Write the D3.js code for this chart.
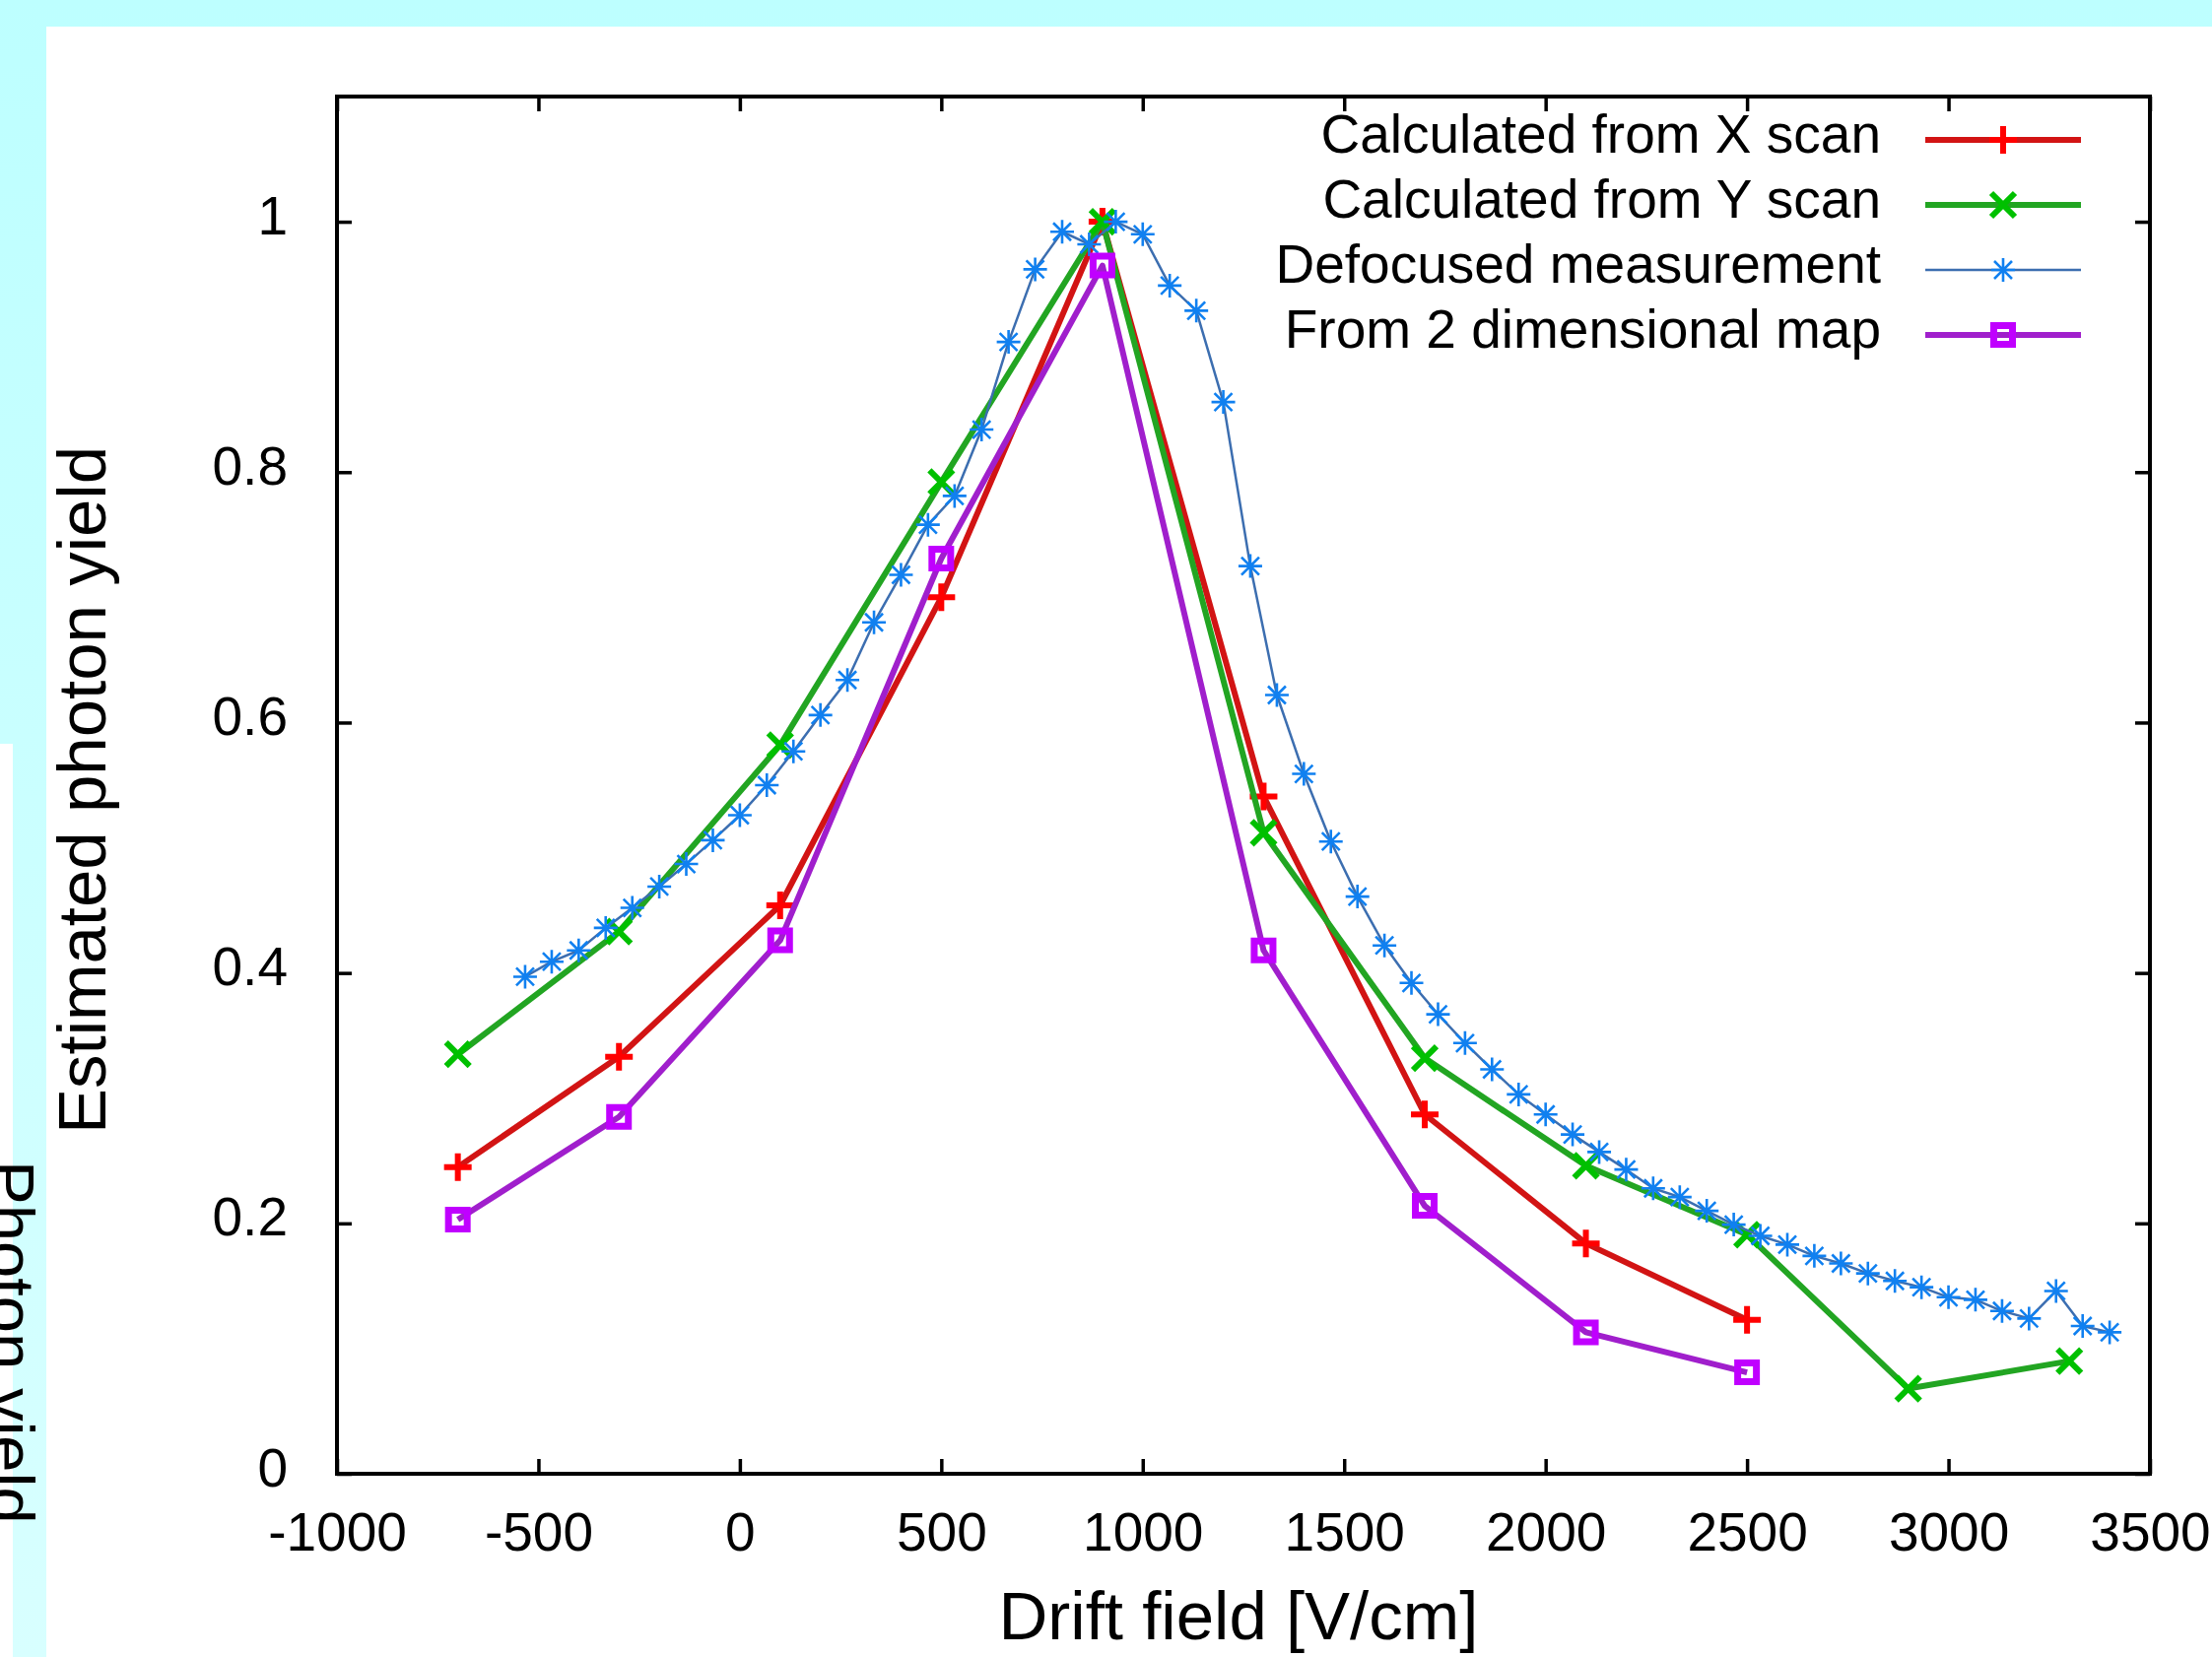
<!DOCTYPE html>
<html>
<head>
<meta charset="utf-8">
<title>Estimated photon yield vs drift field</title>
<style>
body { margin: 0; background: #c4ffff; }
svg { display: block; }
text { font-family: "Liberation Sans", Arial, sans-serif; fill: #000; }
</style>
</head>
<body>
<svg width="2245" height="1682"></svg>
<script src="https://d3js.org/d3.v7.min.js"></script>
<script>
// values
var scanField = [-700, -300, 100, 500, 900, 1300, 1700, 2100, 2500];
var xScanYield = [0.245, 0.333, 0.454, 0.700, 1.000, 0.541, 0.287, 0.184, 0.123];
var mapYield = [0.203, 0.285, 0.426, 0.731, 0.965, 0.418, 0.214, 0.113, 0.081];
var yScanField = [-700, -300, 100, 500, 900, 1300, 1700, 2100, 2500, 2900, 3300];
var yScanYield = [0.335, 0.433, 0.582, 0.792, 1.000, 0.512, 0.332, 0.246, 0.191, 0.068, 0.090];

var defocusField = [-533, -467, -400, -333, -267, -200, -133, -67,
    0, 67, 133, 200, 267, 333, 400, 467, 533, 600, 667, 733, 800, 867, 933,
    1000, 1067, 1133, 1200, 1267, 1333, 1400, 1467, 1533, 1600, 1667, 1733, 1800, 1867, 1933,
    2000, 2067, 2133, 2200, 2267, 2333, 2400, 2467, 2533, 2600, 2667, 2733, 2800, 2867, 2933,
    3000, 3067, 3133, 3200, 3267, 3333, 3400];
var defocusYield = [0.397, 0.409, 0.418, 0.436, 0.452, 0.469, 0.487, 0.506,
    0.526, 0.550, 0.577, 0.606, 0.634, 0.680, 0.718, 0.758, 0.781, 0.834, 0.904, 0.962, 0.992, 0.982, 1.000,
    0.990, 0.949, 0.929, 0.856, 0.725, 0.622, 0.559, 0.505, 0.461, 0.422, 0.392, 0.367, 0.344, 0.323, 0.303,
    0.287, 0.271, 0.257, 0.243, 0.228, 0.221, 0.210, 0.199, 0.190, 0.183, 0.174, 0.168, 0.160, 0.154, 0.149,
    0.141, 0.139, 0.130, 0.124, 0.146, 0.118, 0.113];

var xTicks = [-1000, -500, 0, 500, 1000, 1500, 2000, 2500, 3000, 3500];
var xTickLabels = ["-1000", "-500", "0", "500", "1000", "1500", "2000", "2500", "3000", "3500"];
var yTicks = [0, 0.2, 0.4, 0.6, 0.8, 1];
var yTickLabels = ["0", "0.2", "0.4", "0.6", "0.8", "1"];

var legendLabels = ["Calculated from X scan", "Calculated from Y scan", "Defocused measurement", "From 2 dimensional map"];

var svg = d3.select("svg");

// background: cyan page with a white panel, plus a bit of another panel at the left edge
var grad = svg.append("defs").append("linearGradient")
    .attr("id", "cyan").attr("x1", 0).attr("y1", 0).attr("x2", 0).attr("y2", 1);
grad.append("stop").attr("offset", "0%").attr("stop-color", "#bdffff");
grad.append("stop").attr("offset", "100%").attr("stop-color", "#d8ffff");

svg.append("rect").attr("width", 2245).attr("height", 1682).attr("fill", "url(#cyan)");
svg.append("rect").attr("x", 47).attr("y", 27).attr("width", 2198).attr("height", 1655).attr("fill", "#fff");
svg.append("rect").attr("x", 0).attr("y", 755).attr("width", 13).attr("height", 927).attr("fill", "#fff");
svg.append("text")
    .attr("transform", "translate(-12,1178) rotate(90)")
    .attr("font-size", 67)
    .text("Photon yield");

var x = d3.scaleLinear().domain([-1000, 3500]).range([342, 2182]);
var y = d3.scaleLinear().domain([0, 1.1]).range([1496, 98]);

function styleAxis(g) {
    g.select(".domain").remove();
    g.attr("font-size", 55).attr("font-family", null);
    g.selectAll(".tick line").attr("stroke-width", 3.5);
}

svg.append("g")
    .attr("transform", "translate(0,1496)")
    .call(d3.axisBottom(x).tickValues(xTicks).tickFormat(function(d, i) { return xTickLabels[i]; })
        .tickSize(-15).tickPadding(39))
    .call(styleAxis);

svg.append("g")
    .attr("transform", "translate(0,98)")
    .call(d3.axisTop(x).tickValues(xTicks).tickFormat("").tickSize(-15))
    .call(styleAxis);

svg.append("g")
    .attr("transform", "translate(342,0)")
    .call(d3.axisLeft(y).tickValues(yTicks).tickFormat(function(d, i) { return yTickLabels[i]; })
        .tickSize(-15).tickPadding(50))
    .call(styleAxis)
    .selectAll("text").attr("dy", "0.22em");

svg.append("g")
    .attr("transform", "translate(2182,0)")
    .call(d3.axisRight(y).tickValues(yTicks).tickFormat("").tickSize(-15))
    .call(styleAxis);

svg.append("rect")
    .attr("x", 342).attr("y", 98)
    .attr("width", 2182 - 342).attr("height", 1496 - 98)
    .attr("fill", "none").attr("stroke", "#000").attr("stroke-width", 4);

// axis titles
svg.append("text")
    .attr("x", 1257).attr("y", 1664)
    .attr("text-anchor", "middle").attr("font-size", 69)
    .text("Drift field [V/cm]");
svg.append("text")
    .attr("transform", "translate(107,802) rotate(-90)")
    .attr("text-anchor", "middle").attr("font-size", 69)
    .text("Estimated photon yield");

// point types like gnuplot: plus, cross, star, box
var symbols = {
    plus: "M-14,0H14M0,-14V14",
    cross: "M-12,-12L12,12M-12,12L12,-12",
    star: "M-12,0H12M0,-12V12M-9,-9L9,9M-9,9L9,-9",
    box: "M-9.5,-9.5H9.5V9.5H-9.5Z"
};

var series = [
    {field: scanField, yield: xScanYield, line: "#d21414", mark: "#ff0000", lw: 6, sym: "plus", sw: 6},
    {field: yScanField, yield: yScanYield, line: "#22a522", mark: "#00c000", lw: 6, sym: "cross", sw: 6},
    {field: defocusField, yield: defocusYield, line: "#3c6eb0", mark: "#1080f0", lw: 2.5, sym: "star", sw: 2.6},
    {field: scanField, yield: mapYield, line: "#a01fcc", mark: "#c000ff", lw: 6, sym: "box", sw: 7}
];

var line = d3.line()
    .x(function(d) { return x(d[0]); })
    .y(function(d) { return y(d[1]); })
    .curve(d3.curveLinear);

series.forEach(function(s) {
    var pts = s.field.map(function(f, i) { return [f, s.yield[i]]; });
    svg.append("path")
        .attr("d", line(pts))
        .attr("fill", "none")
        .attr("stroke", s.line)
        .attr("stroke-width", s.lw)
        .attr("stroke-linejoin", "round");
    svg.append("g").selectAll("path")
        .data(pts)
        .enter()
        .append("path")
        .attr("d", symbols[s.sym])
        .attr("transform", function(d) { return "translate(" + x(d[0]) + "," + y(d[1]) + ")"; })
        .attr("fill", "none")
        .attr("stroke", s.mark)
        .attr("stroke-width", s.sw);
});

// legend, top right inside the frame
var legendY = d3.scaleLinear().domain([0, 1]).range([142, 208]);
legendLabels.forEach(function(label, i) {
    var s = series[i];
    var ly = legendY(i);
    svg.append("text")
        .attr("x", 1909).attr("y", ly + 13)
        .attr("text-anchor", "end").attr("font-size", 55)
        .text(label);
    svg.append("line")
        .attr("x1", 1954).attr("x2", 2112).attr("y1", ly).attr("y2", ly)
        .attr("stroke", s.line).attr("stroke-width", s.lw);
    svg.append("path")
        .attr("d", symbols[s.sym])
        .attr("transform", "translate(2033," + ly + ")")
        .attr("fill", "none").attr("stroke", s.mark).attr("stroke-width", s.sw);
});
</script>
</body>
</html>
